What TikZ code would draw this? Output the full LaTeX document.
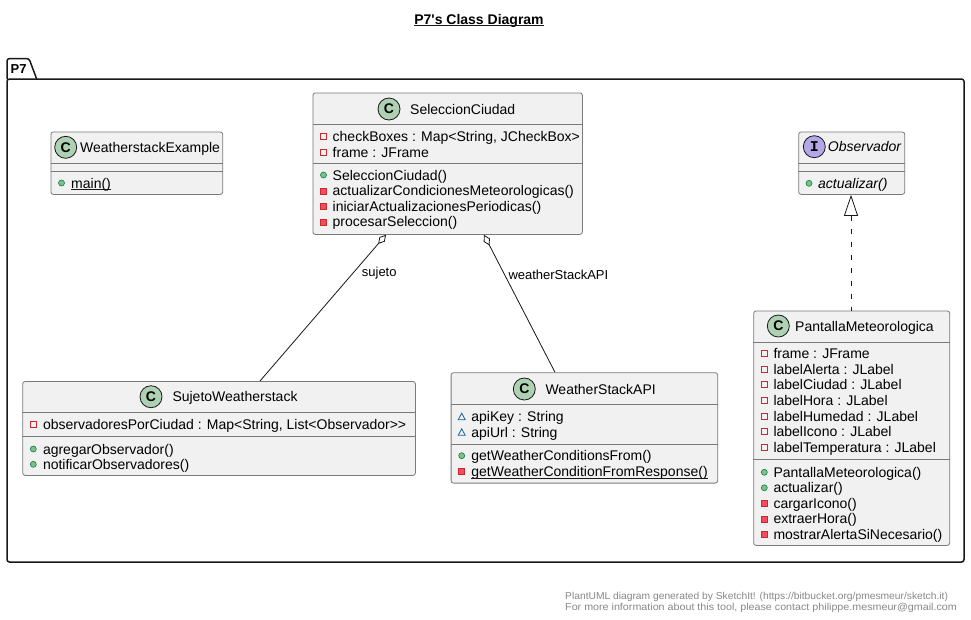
\documentclass[tikz,border=0pt]{standalone}
\usepackage{fontspec}
\usepackage{graphicx}
\setmainfont{Liberation Sans}
\newfontfamily\monofnt{Liberation Mono}
\usetikzlibrary{arrows.meta,calc}
\definecolor{boxfill}{HTML}{F1F1F1}
\definecolor{boxline}{HTML}{7A7A7A}
\definecolor{ink}{HTML}{181818}
\definecolor{classC}{HTML}{ADD1B2}
\definecolor{ifaceI}{HTML}{B4A7E5}
\definecolor{pubfill}{HTML}{84BE84}
\definecolor{publine}{HTML}{038048}
\definecolor{privline}{HTML}{C82930}
\definecolor{privfill}{HTML}{F24D5C}
\definecolor{pkgline}{HTML}{1963A0}
\definecolor{foot}{HTML}{888888}
\tikzset{
  classbox/.style={draw=boxline, fill=boxfill, line width=0.8pt, rounded corners=2.5pt, inner sep=0pt, anchor=north west},
  sepline/.style={draw=boxline, line width=0.8pt},
  txt/.style={inner sep=0pt, anchor=base west, font=\fontsize{14}{16}\selectfont},
  itxt/.style={inner sep=0pt, anchor=base west, font=\itshape\fontsize{14}{16}\selectfont},
  circC/.style={circle, draw=ink, fill=classC, line width=0.8pt, minimum size=22pt, inner sep=0pt, font=\bfseries\fontsize{14}{16}\selectfont},
  circI/.style={circle, draw=ink, fill=ifaceI, line width=0.8pt, minimum size=22pt, inner sep=0pt, font=\monofnt\bfseries\fontsize{15}{16}\selectfont},
  uline/.style={draw=ink, line width=0.8pt},
  pkgframe/.style={draw=ink, line width=1.5pt, rounded corners=2.5pt},
  assoc/.style={draw=ink, line width=0.8pt, {Diamond[fill=white,length=12pt,width=7pt]}-},
  realize/.style={draw=ink, line width=0.8pt, dash pattern=on 5pt off 8pt, {Triangle[open,length=21pt,width=14pt]}-},
  foottxt/.style={inner sep=0pt, anchor=base west, text=foot, font=\fontsize{10}{12}\selectfont},
  lbl/.style={inner sep=0pt, anchor=base west, font=\fontsize{13}{15}\selectfont},
}
\newcommand\ipub[2]{\filldraw[fill=pubfill,draw=publine,line width=0.6pt] (#1,#2) circle (3);}
\newcommand\iprivf[2]{\draw[privline,line width=0.8pt] (#1-3,#2-3) rectangle (#1+3,#2+3);}
\newcommand\iprivm[2]{\filldraw[fill=privfill,draw=privline,line width=0.6pt] (#1-3,#2-3) rectangle (#1+3,#2+3);}
\newcommand\ipkgf[2]{\draw[pkgline,line width=0.8pt] (#1-3.5,#2+3) -- (#1+3.5,#2+3) -- (#1,#2-3.5) -- cycle;}
\newcommand\urow[6]{#1{#3}{#5-5}\node[txt] (#2) at (#4,#5) {#6};}
\begin{document}
\begin{tikzpicture}[x=1pt,y=-1pt]
\useasboundingbox (0,0) rectangle (971,619);
\fill[white] (0,0) rectangle (971,619);

% title
\node[inner sep=0pt, anchor=base, font=\bfseries\fontsize{14}{16}\selectfont] (title) at (479,24) {P7\textquotesingle s Class Diagram};
\draw[uline] ($(title.base west)+(0,1.6)$) -- ($(title.base east)+(0,1.6)$);

% package
\draw[pkgframe] (7,79) rectangle (964,562);
\draw[pkgframe] (7,79) -- (7,58.5) -- (29,58.5) -- (36.7,79);
\node[inner sep=0pt, anchor=base west, font=\bfseries\fontsize{13}{15}\selectfont] (pkgname) at (10.5,73.5) {P7};

% SeleccionCiudad
\node[classbox, minimum width=269.5pt, minimum height=141.5pt] (sel) at (312.5,92.5) {};
\draw[sepline] ($(sel.north west)+(0,32)$) -- ($(sel.north east)+(0,32)$);
\draw[sepline] ($(sel.north west)+(0,71)$) -- ($(sel.north east)+(0,71)$);
\node[circC] (selC) at (389,109) {C};
\node[txt] (selN) at (410,114) {SeleccionCiudad};
\urow{\iprivf}{selA1}{323.5}{332.5}{141.7}{checkBoxes : Map<String, JCheckBox>}
\urow{\iprivf}{selA2}{323.5}{332.5}{157}{frame : JFrame}
\urow{\ipub}{selM1}{323.5}{332.5}{180}{SeleccionCiudad()}
\urow{\iprivm}{selM2}{323.5}{332.5}{195.8}{actualizarCondicionesMeteorologicas()}
\urow{\iprivm}{selM3}{323.5}{332.5}{211.3}{iniciarActualizacionesPeriodicas()}
\urow{\iprivm}{selM4}{323.5}{332.5}{226.8}{procesarSeleccion()}

% WeatherstackExample
\node[classbox, minimum width=171.8pt, minimum height=62.5pt] (we) at (50.5,131.5) {};
\draw[sepline] ($(we.north west)+(0,31.8)$) -- ($(we.north east)+(0,31.8)$);
\draw[sepline] ($(we.north west)+(0,40)$) -- ($(we.north east)+(0,40)$);
\node[circC] (weC) at (65.7,147.3) {C};
\node[txt] (weN) at (80,152.3) {WeatherstackExample};
\urow{\ipub}{weM1}{61.5}{71}{188}{main()}
\draw[uline] ($(weM1.base west)+(0,1.6)$) -- ($(weM1.base east)+(0,1.6)$);

% Observador
\node[classbox, minimum width=106pt, minimum height=62.5pt] (obs) at (798.3,131.5) {};
\draw[sepline] ($(obs.north west)+(0,31.5)$) -- ($(obs.north east)+(0,31.5)$);
\draw[sepline] ($(obs.north west)+(0,40)$) -- ($(obs.north east)+(0,40)$);
\node[circI] (obsI) at (814.3,146.7) {I};
\node[itxt] (obsN) at (827.7,151.7) {Observador};
\ipub{809}{183.3}
\node[itxt] (obsM1) at (818,188.3) {actualizar()};

% PantallaMeteorologica
\node[classbox, minimum width=196pt, minimum height=234.5pt] (pan) at (753.3,310.5) {};
\draw[sepline] ($(pan.north west)+(0,32)$) -- ($(pan.north east)+(0,32)$);
\draw[sepline] ($(pan.north west)+(0,148.8)$) -- ($(pan.north east)+(0,148.8)$);
\node[circC] (panC) at (778.3,326) {C};
\node[txt] (panN) at (795,331) {PantallaMeteorologica};
\urow{\iprivf}{panA1}{764.3}{773.3}{358.3}{frame : JFrame}
\urow{\iprivf}{panA2}{764.3}{773.3}{374}{labelAlerta : JLabel}
\urow{\iprivf}{panA3}{764.3}{773.3}{389.7}{labelCiudad : JLabel}
\urow{\iprivf}{panA4}{764.3}{773.3}{405.3}{labelHora : JLabel}
\urow{\iprivf}{panA5}{764.3}{773.3}{421}{labelHumedad : JLabel}
\urow{\iprivf}{panA6}{764.3}{773.3}{436.7}{labelIcono : JLabel}
\urow{\iprivf}{panA7}{764.3}{773.3}{452.3}{labelTemperatura : JLabel}
\urow{\ipub}{panM1}{764.3}{773.3}{477.3}{PantallaMeteorologica()}
\urow{\ipub}{panM2}{764.3}{773.3}{492.8}{actualizar()}
\urow{\iprivm}{panM3}{764.3}{773.3}{508.3}{cargarIcono()}
\urow{\iprivm}{panM4}{764.3}{773.3}{523.8}{extraerHora()}
\urow{\iprivm}{panM5}{764.3}{773.3}{539.3}{mostrarAlertaSiNecesario()}

% SujetoWeatherstack
\node[classbox, minimum width=392.7pt, minimum height=94pt] (suj) at (22.3,381) {};
\draw[sepline] ($(suj.north west)+(0,31.3)$) -- ($(suj.north east)+(0,31.3)$);
\draw[sepline] ($(suj.north west)+(0,55)$) -- ($(suj.north east)+(0,55)$);
\node[circC] (sujC) at (151,396.7) {C};
\node[txt] (sujN) at (172.3,401.7) {SujetoWeatherstack};
\urow{\iprivf}{sujA1}{33.3}{42.8}{429.3}{observadoresPorCiudad : Map<String, List<Observador>{}>}
\urow{\ipub}{sujM1}{33.3}{42.8}{454}{agregarObservador()}
\urow{\ipub}{sujM2}{33.3}{42.8}{469.3}{notificarObservadores()}

% WeatherStackAPI
\node[classbox, minimum width=266.6pt, minimum height=110.4pt] (api) at (450.7,372.3) {};
\draw[sepline] ($(api.north west)+(0,32)$) -- ($(api.north east)+(0,32)$);
\draw[sepline] ($(api.north west)+(0,72)$) -- ($(api.north east)+(0,72)$);
\node[circC] (apiC) at (524.3,389) {C};
\node[txt] (apiN) at (545.3,394) {WeatherStackAPI};
\urow{\ipkgf}{apiA1}{461.7}{471.2}{421.7}{apiKey : String}
\urow{\ipkgf}{apiA2}{461.7}{471.2}{437.3}{apiUrl : String}
\urow{\ipub}{apiM1}{461.7}{471.2}{460.7}{getWeatherConditionsFrom()}
\urow{\iprivm}{apiM2}{461.7}{471.2}{476.7}{getWeatherConditionFromResponse()}
\draw[uline] ($(apiM2.base west)+(0,1.6)$) -- ($(apiM2.base east)+(0,1.6)$);

% connectors
\draw[assoc] ($(sel.south west)+(73.5,0)$) -- ($(suj.north west)+(237.7,0)$);
\draw[assoc] ($(sel.south west)+(171.5,0)$) -- ($(api.north west)+(104.3,0)$);
\draw[realize] ($(obs.south west)+(52.7,0)$) -- ($(pan.north west)+(97.7,0)$);
\node[lbl] (lblSujeto) at (361.7,276) {sujeto};
\node[lbl] (lblApi) at (508.3,279.5) {weatherStackAPI};

% footer
\node[foottxt] (foot1) at (565,599.5) {\scalebox{1.027}[1]{PlantUML diagram generated by SketchIt! (https://bitbucket.org/pmesmeur/sketch.it)}};
\node[foottxt] (foot2) at (565,610) {\scalebox{1.072}[1]{For more information about this tool, please contact philippe.mesmeur@gmail.com}};
\end{tikzpicture}
\end{document}
